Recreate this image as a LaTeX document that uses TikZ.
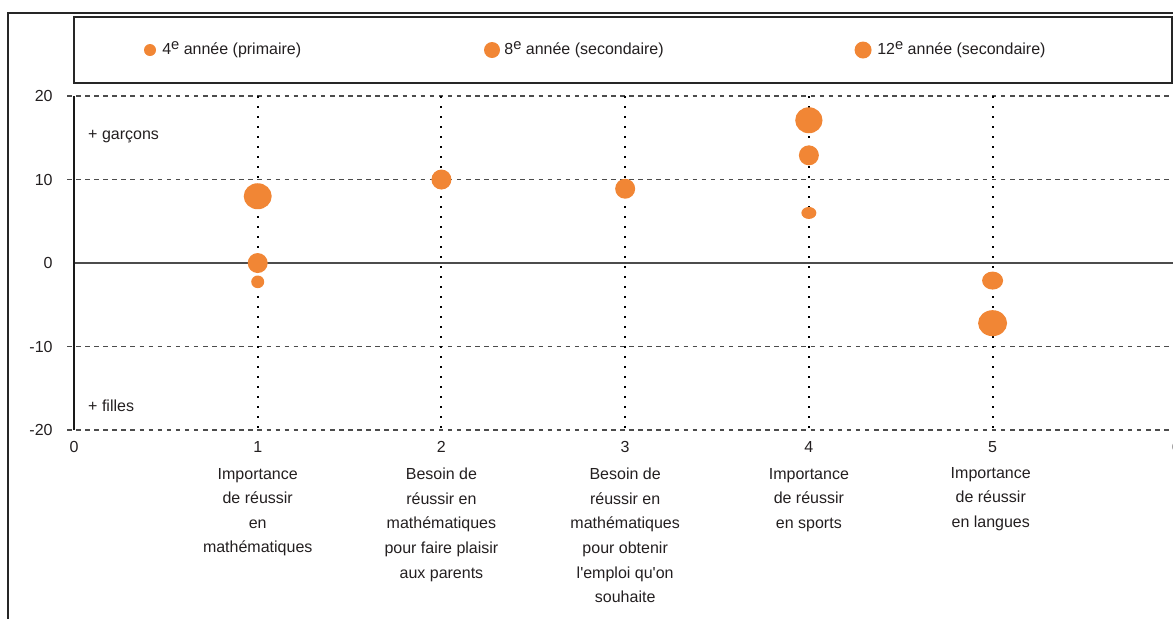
\documentclass[tikz,border=0pt]{standalone}
\usepackage{fontspec}
\setmainfont{Liberation Sans}[Ligatures=TeXReset]
\usepackage{tikz}
\usetikzlibrary{shapes.geometric,positioning}
\definecolor{bulle}{RGB}{241,134,53}
\definecolor{texte}{RGB}{35,31,32}
\newcommand{\ieme}{\raisebox{0.55ex}{\fontsize{11}{12}\selectfont e}}
\tikzstyle{grille} = [draw=black!70, line width=0.9pt, dash pattern=on 3.4pt off 3.4pt]
\tikzstyle{repere} = [draw=black, line width=1.5pt, dash pattern=on 1.5pt off 6pt]
\tikzstyle{cadre} = [draw=black!85, line width=1.4pt]
\tikzstyle{etiquette} = [font=\fontsize{12}{18.4}\selectfont, text=texte, inner sep=0pt]
\tikzstyle{categorie} = [etiquette, align=center, anchor=north]
\tikzstyle{point} = [ellipse, fill=bulle, inner sep=0pt]
\tikzstyle{petit} = [point, minimum width=9.75pt, minimum height=9.5pt]
\tikzstyle{moyen} = [point, minimum width=15pt, minimum height=15pt]
\tikzstyle{grand} = [point, minimum width=20.5pt, minimum height=19.5pt]

\begin{document}
\begin{tikzpicture}[x=137.78pt, y=6.2625pt]
\useasboundingbox (-0.4028,-42.51) rectangle (5.982,31.50);

% cadre et legende
\draw[cadre] (-0.3593,-43) -- (-0.3593,29.94) -- (6.1,29.94);
\draw[cadre, line width=1.2pt] (0,21.56) rectangle (5.977,29.46);
\node[petit, minimum width=9pt, minimum height=9pt] (leg4) at (0.4137,25.51) {};
\node[etiquette, anchor=base west] (txt4) at (0.479,25.03) {4\ieme{} année (primaire)};
\node[moyen, minimum width=12pt, minimum height=12pt] (leg8) at (2.2754,25.51) {};
\node[etiquette, anchor=base west] (txt8) at (2.341,25.03) {8\ieme{} année (secondaire)};
\node[grand, minimum width=12.75pt, minimum height=12.75pt] (leg12) at (4.295,25.51) {};
\node[etiquette, anchor=base west] (txt12) at (4.371,25.03) {12\ieme{} année (secondaire)};

% grille
\foreach \y in {20,10,-10,-20}{
  \draw[grille] (-0.038,\y) -- (6.1,\y);
  \node[etiquette, anchor=east] (y\y) at (-0.115,\y) {\y};
}
\node[etiquette, anchor=east] (y0) at (-0.115,0) {0};
\draw[draw=black!70, line width=1.1pt] (0,0) -- (6.1,0);
\foreach \x in {1,...,5}
  \draw[repere] (\x,20) -- (\x,-20);
\draw[draw=black!90, line width=1.5pt] (0,20) -- (0,-20);
\foreach \x in {0,...,6}
  \node[etiquette] (x\x) at (\x,-22.04) {\x};

\node[etiquette, anchor=base west] (garcons) at (0.076,14.85) {+ garçons};
\node[etiquette, anchor=base west] (filles) at (0.076,-17.8) {+ filles};

% categories
\node[categorie] (cat1) at (1,-24.55) {Importance\\de réussir\\en\\mathématiques};
\node[categorie] (cat2) at (2,-24.55) {Besoin de\\réussir en\\mathématiques\\pour faire plaisir\\aux parents};
\node[categorie] (cat3) at (3,-24.55) {Besoin de\\réussir en\\mathématiques\\pour obtenir\\l'emploi qu'on\\souhaite};
\node[categorie] (cat4) at (4,-24.55) {Importance\\de réussir\\en sports};
\node[categorie] (cat5) at (4.99,-24.4) {Importance\\de réussir\\en langues};

% bulles
\node[grand, minimum width=21pt] (b1c) at (1,8) {};
\node[moyen] (b1b) at (1,0) {};
\node[petit] (b1a) at (1,-2.25) {};
\node[moyen] (b2b) at (2,10) {};
\node[moyen] (b3b) at (3,8.9) {};
\node[grand] (b4c) at (4,17.1) {};
\node[moyen] (b4b) at (4,12.9) {};
\node[petit, minimum width=11.25pt, minimum height=9pt] (b4a) at (4,6) {};
\node[moyen, minimum width=15.75pt, minimum height=13.5pt] (b5b) at (5,-2.1) {};
\node[grand, minimum width=21.75pt] (b5c) at (5,-7.2) {};
\end{tikzpicture}
\end{document}
